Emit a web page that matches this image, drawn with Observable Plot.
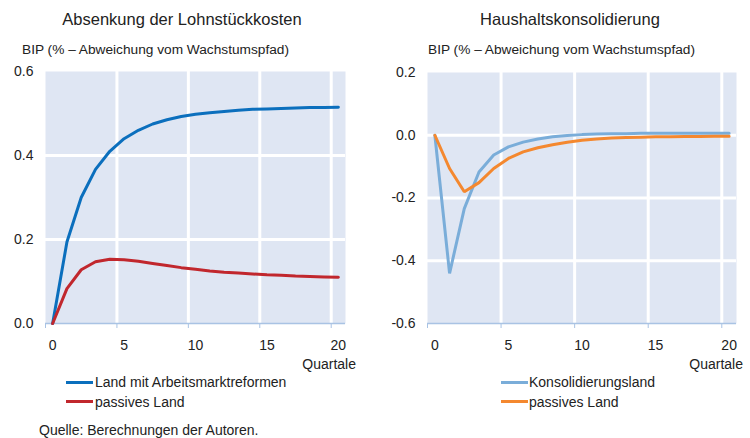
<!DOCTYPE html>
<html><head><meta charset="utf-8">
<script src="https://cdn.jsdelivr.net/npm/d3@7"></script>
<script src="https://cdn.jsdelivr.net/npm/@observablehq/plot@0.6"></script>
<style>
body{margin:0;background:#fff;font-family:Arial,"Liberation Sans",sans-serif;color:#222}
#root{position:relative;width:750px;height:438px;overflow:hidden}
.t{position:absolute;white-space:nowrap;line-height:1}
.sw{position:absolute;height:3px;width:27px}
.p{position:absolute;top:60px}
</style></head><body><div id="root"></div>
<script>
// Data
const quarters = [0,1,2,3,4,5,6,7,8,9,10,11,12,13,14,15,16,17,18,19,20];
const reformLand   = [0,0.194,0.300,0.367,0.410,0.440,0.460,0.475,0.485,0.493,0.498,0.502,0.505,0.508,0.510,0.511,0.512,0.513,0.514,0.514,0.515];
const passiveLandA = [0,0.083,0.128,0.147,0.153,0.152,0.148,0.143,0.138,0.133,0.129,0.125,0.122,0.120,0.118,0.116,0.115,0.113,0.112,0.111,0.110];
const konsolLand   = [0,-0.440,-0.234,-0.117,-0.063,-0.037,-0.022,-0.012,-0.005,-0.001,0.002,0.004,0.005,0.005,0.006,0.006,0.006,0.006,0.006,0.006,0.006];
const passiveLandB = [0,-0.106,-0.180,-0.151,-0.106,-0.074,-0.053,-0.040,-0.030,-0.022,-0.016,-0.012,-0.009,-0.007,-0.006,-0.005,-0.005,-0.004,-0.004,-0.003,-0.003];
const xTickLabels = [0,5,10,15,20];
const xGrid = [4.5,9.5,14.5,19.5];
const xTickMarks = [-0.5,4.5,9.5,14.5,19.5];
const leftYTicks = [0,0.2,0.4,0.6];
const leftYGrid = [0.2,0.4];
const rightYTicks = [-0.6,-0.4,-0.2,0,0.2];
const rightYGrid = [0,-0.2,-0.4];
const titles = ["Absenkung der Lohnstückkosten","Haushaltskonsolidierung"];
const yLabel = "BIP (% – Abweichung vom Wachstumspfad)";
const xLabel = "Quartale";
const leftNames = ["Land mit Arbeitsmarktreformen","passives Land"];
const rightNames = ["Konsolidierungsland","passives Land"];
const source = "Quelle: Berechnungen der Autoren.";

const BG = "#dfe6f3", AXIS = "#a9c3e4";
const C = {blue:"#0b6fbd", red:"#c1272d", lblue:"#7aadd9", orange:"#f4882f"};
const FONT = 'Arial, "Liberation Sans", sans-serif';

function panel({series, yDomain, yTicks, yGrid, marginLeft, marginRight, marginTop}) {
  return Plot.plot({
    width: 375, height: 300, marginLeft, marginRight, marginTop, marginBottom: 37,
    x: {domain: [-0.5, 20.5]},
    y: {domain: yDomain},
    style: {fontFamily: FONT, fontSize: "14px", color: "#222", background: "transparent", overflow: "visible"},
    marks: [
      Plot.frame({fill: BG, stroke: null}),
      Plot.ruleX(xGrid, {stroke: "white", strokeWidth: 3}),
      Plot.ruleY(yGrid, {stroke: "white", strokeWidth: 3}),
      Plot.ruleY([yDomain[0]], {stroke: AXIS, strokeWidth: 1.5}),
      Plot.axisX(xTickMarks, {tickSize: 5, tickFormat: () => "", stroke: AXIS, label: null}),
      Plot.axisX(xTickLabels, {tickSize: 0, tickPadding: 17, label: null, fill: "#222"}),
      Plot.axisY(yTicks, {tickSize: 0, tickPadding: 12, tickFormat: d => d.toFixed(1), label: null, fill: "#222"}),
      ...series.map(s => Plot.line(s.values, {x: (d, i) => quarters[i], y: d => d, stroke: s.color, strokeWidth: 3, strokeLinejoin: "miter"}))
    ]
  });
}

const root = document.getElementById("root");
function txt(s, css) { const d = document.createElement("div"); d.className = "t"; d.textContent = s; Object.assign(d.style, css); root.appendChild(d); return d; }
function sw(color, left, top) { const d = document.createElement("div"); d.className = "sw"; Object.assign(d.style, {background: color, left: left + "px", top: top + "px"}); root.appendChild(d); }

const left = panel({series: [{values: reformLand, color: C.blue}, {values: passiveLandA, color: C.red}],
  yDomain: [0, 0.6], yTicks: leftYTicks, yGrid: leftYGrid, marginLeft: 45, marginRight: 30, marginTop: 11});
left.classList.add("p"); left.style.left = "0px"; root.appendChild(left);

const right = panel({series: [{values: konsolLand, color: C.lblue}, {values: passiveLandB, color: C.orange}],
  yDomain: [-0.6, 0.2], yTicks: rightYTicks, yGrid: rightYGrid, marginLeft: 52, marginRight: 14, marginTop: 12});
right.classList.add("p"); right.style.left = "375px"; root.appendChild(right);

// Titles
const t1 = txt(titles[0], {fontSize: "16.5px", top: "10.5px", left: "182px", transform: "translateX(-50%)"});
const t2 = txt(titles[1], {fontSize: "16.5px", top: "10.5px", left: "570px", transform: "translateX(-50%)"});
txt(yLabel, {fontSize: "13.7px", top: "42.5px", left: "22px"});
txt(yLabel, {fontSize: "13.7px", top: "42.5px", left: "428px"});
txt(xLabel, {fontSize: "14px", top: "357px", right: (750 - 356) + "px"});
txt(xLabel, {fontSize: "14px", top: "357px", right: (750 - 743) + "px"});
// Legends
sw(C.blue, 66, 380.5); txt(leftNames[0], {fontSize: "14px", top: "375px", left: "95px"});
sw(C.red, 66, 399.5); txt(leftNames[1], {fontSize: "14px", top: "395px", left: "95px"});
sw(C.lblue, 501, 380.5); txt(rightNames[0], {fontSize: "14px", top: "375px", left: "529px"});
sw(C.orange, 501, 399.5); txt(rightNames[1], {fontSize: "14px", top: "395px", left: "529px"});
txt(source, {fontSize: "14px", top: "423px", left: "39px"});
</script></body></html>
